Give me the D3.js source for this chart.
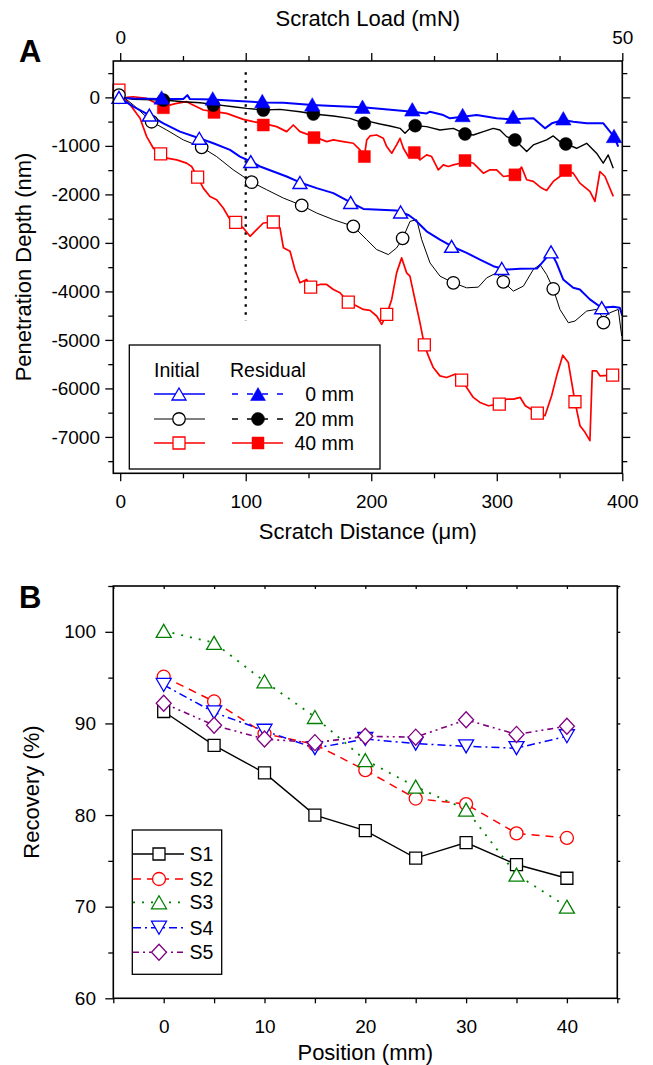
<!DOCTYPE html>
<html><head><meta charset="utf-8">
<script src="https://cdn.jsdelivr.net/npm/d3@7"></script>
<style>
body{margin:0;background:#fff}
svg{display:block}
text{font-family:"Liberation Sans",Arial,Helvetica,sans-serif;fill:#000}
</style>
</head><body>
<svg id="c" width="653" height="1065"></svg>
<script>
// ---------------- Panel A data (scratch distance µm, depth nm) ----------------
const aXTicks = [0,100,200,300,400];
const aXMinor = [50,150,250,350];
const aYTicks = [0,-1000,-2000,-3000,-4000,-5000,-6000,-7000];
const aYMinor = [500,-500,-1500,-2500,-3500,-4500,-5500,-6500,-7500];
const loadTicks = [0,50];

const initial0 = [[-5.5,100],[-1,0],[10.5,-192],[23.2,-364],[34.4,-535],[47.6,-706],[63,-843],[74.2,-946],[87.5,-1083],[95.4,-1220],[104,-1322],[111.4,-1425],[122,-1528],[132.6,-1631],[143.2,-1754],[156.5,-1871],[169.8,-1974],[183.6,-2165],[193.7,-2300],[207,-2316],[220,-2330],[223.4,-2364],[230,-2430],[234.8,-2522],[244.1,-2761],[254.7,-2933],[264,-3069],[276,-3206],[286.6,-3343],[297.3,-3480],[304,-3528],[308,-3549],[318.7,-3535],[332,-3528],[336,-3412],[343.2,-3193],[347.6,-3412],[352.9,-3754],[360.9,-3926],[366.2,-3960],[374.2,-4165],[383.5,-4336],[392.8,-4315],[398,-4336],[400,-4500]];
const initial20 = [[-5.5,116],[-1,82],[10.5,-158],[25,-501],[37,-672],[50.3,-877],[64.9,-1028],[76.8,-1220],[90.1,-1494],[104.7,-1747],[116.7,-1904],[130,-2076],[144.6,-2227],[156.5,-2384],[169.8,-2521],[185.7,-2658],[196.3,-2932],[204.3,-3137],[213.6,-3241],[220.2,-3104],[225,-2912],[230.9,-2556],[236.2,-2522],[240.2,-2933],[246.8,-3412],[254.8,-3686],[265.4,-3823],[276,-3926],[285.3,-3912],[292,-3720],[299.9,-3617],[305.2,-3802],[313.2,-3994],[321.2,-3891],[329.1,-3549],[334.4,-3446],[339.7,-3652],[345,-3946],[350.3,-4371],[357,-4645],[362.3,-4611],[371.6,-4405],[379.5,-4371],[384.8,-4550],[390.2,-4439],[396.8,-4371],[399.5,-4919]];
const initial40 = [[-5.5,163],[-1,116],[2.5,13],[9.1,-192],[15.8,-432],[21.1,-809],[26.4,-1048],[32.2,-1165],[37,-1254],[45,-1288],[52.9,-1356],[56.9,-1425],[61.7,-1645],[66.2,-1871],[71.5,-2042],[76.8,-2110],[82.1,-2281],[87.5,-2521],[92,-2576],[98.1,-2693],[103.4,-2864],[108.7,-2727],[114,-2590],[122,-2569],[127.3,-2690],[130,-3100],[135.3,-3172],[139.2,-3549],[143.2,-3823],[148.5,-3754],[151.7,-3912],[159.2,-3857],[164.5,-3857],[169.8,-3960],[175.1,-4028],[181.7,-4220],[188.4,-4302],[193.7,-4371],[199,-4390],[204.3,-4507],[208.3,-4679],[212.3,-4474],[216.3,-4166],[220.2,-3618],[224.2,-3309],[228.2,-3618],[230.8,-3686],[234.8,-4166],[238.8,-4645],[242.3,-5104],[245.5,-5330],[249.4,-5570],[254.7,-5741],[260,-5776],[266.7,-5707],[272,-5830],[276,-5981],[281.3,-6186],[286.6,-6289],[293.3,-6358],[302.3,-6323],[308,-6220],[313.4,-6220],[318.7,-6186],[322.7,-6358],[332.3,-6508],[338.4,-6563],[343.7,-6152],[347.7,-5741],[352.6,-5316],[357,-5467],[362.3,-6275],[366.3,-6769],[370.3,-6906],[374.2,-7077],[376.1,-5638],[379.5,-5638],[382.2,-5741],[392.1,-5727],[395.6,-5707]];
const residual0 = [[-5.5,0],[10.5,-21],[33,-35],[50.3,-35],[53.5,47],[55.6,-35],[73.7,-42],[90.1,-69],[113.2,-103],[130,-110],[153,-158],[169.8,-179],[193,-206],[204.3,-227],[217.6,-261],[232.7,-295],[244.1,-330],[246.8,-295],[257.4,-364],[262.7,-432],[272.8,-398],[284,-364],[299.9,-432],[313.2,-453],[329.2,-432],[338.4,-638],[343.8,-535],[353,-466],[361,-501],[371.6,-535],[384.9,-535],[390.2,-706],[393.4,-809],[396.8,-1014]];
const residual20 = [[-5.5,82],[-1,13],[10.5,-42],[34.4,-55],[50.3,-90],[63.6,-110],[74.2,-145],[90.1,-192],[100.7,-227],[114,-261],[127.3,-247],[143.2,-295],[153.9,-343],[169.8,-384],[183.1,-432],[194.5,-535],[199,-501],[207,-549],[214.9,-590],[222.9,-638],[226.9,-741],[230.9,-638],[234.9,-583],[244.1,-604],[254.7,-672],[265.4,-638],[274.7,-754],[281.3,-775],[289.3,-706],[297.2,-638],[302.5,-672],[307.8,-809],[314.5,-877],[323.8,-1117],[329.1,-980],[339.7,-877],[345,-795],[350.3,-912],[355.1,-960],[363.6,-1049],[371.6,-946],[379.5,-1151],[384.8,-1357],[388.8,-1186],[392.8,-1460]];
const residual40 = [[-5.5,-89],[-1,-124],[5.2,0],[10.5,13],[21.1,-21],[34.4,-192],[45,-124],[52.9,-89],[60.9,-192],[66.2,-260],[74.7,-295],[84.8,-329],[98.1,-453],[106,-501],[114,-535],[124.6,-603],[132.6,-706],[137.9,-569],[143.2,-706],[154.4,-809],[164.5,-912],[169.8,-877],[177.7,-912],[185.7,-946],[191,-1083],[194.5,-1220],[196.4,-877],[199,-795],[204.3,-775],[209.6,-843],[212.3,-1014],[216.3,-1151],[220.2,-980],[222.9,-843],[225.6,-1049],[229.5,-1220],[234.3,-1138],[238.8,-1288],[244.1,-1186],[248.1,-1220],[253.4,-1494],[257.4,-1391],[261.4,-1425],[265.4,-1391],[270.7,-1357],[274.7,-1302],[281.3,-1357],[289.3,-1562],[294.6,-1494],[299.9,-1494],[305.3,-1631],[314.5,-1597],[319.8,-1439],[323.8,-1699],[329.1,-1733],[335.7,-1870],[339.7,-1918],[345,-1733],[350.3,-1631],[354.8,-1508],[360.9,-1562],[366.2,-1768],[374.2,-1939],[378.2,-2144],[382.2,-1528],[386.2,-1631],[392.8,-2042]];

const initial0Marks = [[-1,0],[23.2,-364],[63,-843],[104,-1323],[143.2,-1755],[183.6,-2166],[223.4,-2363],[264,-3070],[304,-3528],[343.2,-3185],[383.6,-4336]];
const initial20Marks = [[-1,47],[25,-502],[64.9,-1029],[104.7,-1748],[144.6,-2227],[185.7,-2659],[225,-2905],[265.4,-3823],[305.2,-3802],[345,-3946],[385,-4644]];
const initial40Marks = [[-1,150],[32.2,-1165],[61.7,-1644],[92,-2576],[122,-2569],[151.7,-3912],[181.7,-4220],[212.3,-4474],[242.3,-5104],[272,-5830],[302,-6323],[332.3,-6508],[362.3,-6275],[392.3,-5727]];
const residual0Marks = [[33,0],[73.7,-21],[113.2,-76],[153,-145],[193,-193],[232.7,-247],[272.8,-364],[313,-398],[353,-432],[393.4,-795]];
const residual20Marks = [[34.4,-56],[74.2,-158],[114,-261],[153.9,-343],[194.5,-535],[235,-583],[274.7,-754],[314.5,-877],[355,-960]];
const residual40Marks = [[34.4,-213],[74.7,-309],[114,-570],[154.4,-830],[194.5,-1220],[234.3,-1138],[274.7,-1302],[314.5,-1597],[354.8,-1508]];

const legendRowsA = ["0 mm","20 mm","40 mm"];

// ---------------- Panel B data (position mm, recovery %) ----------------
const positions = [0,5,10,15,20,25,30,35,40];
const seriesNames = ["S1","S2","S3","S4","S5"];
const S1 = [91.3,87.6,84.6,80.0,78.3,75.3,77.0,74.6,73.1];
const S2 = [95.1,92.4,88.9,87.7,84.9,81.8,81.2,78.0,77.5];
const S3 = [100.1,98.8,94.6,90.7,86.0,83.1,80.6,73.5,70.0];
const S4 = [94.2,91.2,89.2,87.3,88.3,87.8,87.5,87.3,88.6];
const S5 = [92.2,89.8,88.3,87.9,88.6,88.5,90.4,88.8,89.7];
const bXTicks = [0,10,20,30,40];
const bXMinor = [-5,5,15,25,35,45];
const bYTicks = [60,70,80,90,100];
const bYMinor = [65,75,85,95,105];

// ---------------- drawing ----------------
const svg = d3.select("#c");
const BLUE="#0000ff", RED="#ff0000", BLACK="#000000", GREEN="#008000", PURPLE="#800080";

function markerPath(type, w, h){
  const p = d3.path();
  if(type==="tri"){ p.moveTo(0,-h/2); p.lineTo(w/2,h/2); p.lineTo(-w/2,h/2); p.closePath(); }
  else if(type==="itri"){ p.moveTo(0,h/2); p.lineTo(w/2,-h/2); p.lineTo(-w/2,-h/2); p.closePath(); }
  else if(type==="square"){ p.rect(-w/2,-h/2,w,h); }
  else if(type==="diamond"){ p.moveTo(0,-h/2); p.lineTo(w/2,0); p.lineTo(0,h/2); p.lineTo(-w/2,0); p.closePath(); }
  else if(type==="circle"){ p.arc(0,0,w/2,0,2*Math.PI); p.closePath(); }
  return p.toString();
}
function drawMarks(g, pts, sx, sy, type, w, h, stroke, fill, sw){
  g.selectAll(null).data(pts).enter().append("path")
    .attr("d", markerPath(type,w,h))
    .attr("transform", d=>`translate(${sx(d[0])},${sy(d[1])})`)
    .attr("fill", fill).attr("stroke", stroke).attr("stroke-width", sw);
}
function styleAxis(g, fs){
  g.select(".domain").remove();
  g.selectAll(".tick line").attr("stroke","#000").attr("stroke-width",1.3);
  g.selectAll(".tick text").attr("font-size",fs).attr("fill","#000")
    .style("font-family",'"Liberation Sans",Arial,Helvetica,sans-serif');
}

// ===== Panel A =====
const xA = d3.scaleLinear().domain([-5.5,400]).range([113.3,622.3]);
const yA = d3.scaleLinear().domain([-7750,750]).range([473.3,61]);
const loadA = d3.scaleLinear().domain([0,50]).range([xA(0),xA(400)]);
const gA = svg.append("g");

const fmt = d=>String(d);
styleAxis(gA.append("g").attr("transform",`translate(0,${yA.range()[0]})`).call(d3.axisBottom(xA).tickValues(aXMinor).tickSize(5).tickFormat("")),19);
styleAxis(gA.append("g").attr("transform",`translate(0,${yA.range()[0]})`).call(d3.axisBottom(xA).tickValues(aXTicks).tickSize(8).tickPadding(13.5).tickFormat(fmt)),19);
styleAxis(gA.append("g").attr("transform",`translate(0,${yA.range()[1]})`).call(d3.axisTop(xA).tickValues(aXMinor).tickSize(5).tickFormat("")),19);
styleAxis(gA.append("g").attr("transform",`translate(0,${yA.range()[1]})`).call(d3.axisTop(xA).tickValues(aXTicks).tickSize(8).tickFormat("")),19);
styleAxis(gA.append("g").attr("transform",`translate(0,${yA.range()[1]})`).call(d3.axisTop(loadA).tickValues(loadTicks).tickSize(0).tickPadding(17).tickFormat(fmt)),19);
styleAxis(gA.append("g").attr("transform",`translate(${xA.range()[0]},0)`).call(d3.axisLeft(yA).tickValues(aYMinor).tickSize(5).tickFormat("")),19);
styleAxis(gA.append("g").attr("transform",`translate(${xA.range()[0]},0)`).call(d3.axisLeft(yA).tickValues(aYTicks).tickSize(8).tickPadding(5.3).tickFormat(fmt)),19);
styleAxis(gA.append("g").attr("transform",`translate(${xA.range()[1]},0)`).call(d3.axisRight(yA).tickValues(aYMinor).tickSize(5).tickFormat("")),19);
styleAxis(gA.append("g").attr("transform",`translate(${xA.range()[1]},0)`).call(d3.axisRight(yA).tickValues(aYTicks).tickSize(8).tickFormat("")),19);

gA.append("line").attr("x1",xA(100)).attr("x2",xA(100)).attr("y1",yA(520)).attr("y2",yA(-4600))
  .attr("stroke","#000").attr("stroke-width",2.3).attr("stroke-dasharray","2.6,5.4");

const lineA = d3.line().x(d=>xA(d[0])).y(d=>yA(d[1]));
const curves = [
  [initial40, RED, 1.7],[initial20, BLACK, 1.0],[initial0, BLUE, 2.0],
  [residual40, RED, 1.7],[residual20, BLACK, 1.4],[residual0, BLUE, 2.0]
];
curves.forEach(c=>gA.append("path").attr("d",lineA(c[0])).attr("fill","none")
  .attr("stroke",c[1]).attr("stroke-width",c[2]).attr("stroke-linejoin","round"));

drawMarks(gA, initial40Marks, xA, yA, "square", 12, 12, RED, "#fff", 1.3);
drawMarks(gA, initial20Marks, xA, yA, "circle", 12.5, 12.5, BLACK, "#fff", 1.3);
drawMarks(gA, initial0Marks, xA, yA, "tri", 14, 12, BLUE, "#fff", 1.4);
drawMarks(gA, residual40Marks, xA, yA, "square", 12, 12, RED, RED, 0.5);
drawMarks(gA, residual20Marks, xA, yA, "circle", 13, 13, BLACK, BLACK, 0.5);
drawMarks(gA, residual0Marks, xA, yA, "tri", 15.5, 13.5, BLUE, BLUE, 0.5);

gA.append("rect").attr("x",xA.range()[0]).attr("y",yA.range()[1])
  .attr("width",xA.range()[1]-xA.range()[0]).attr("height",yA.range()[0]-yA.range()[1])
  .attr("fill","none").attr("stroke","#000").attr("stroke-width",1.6);

const lgA = gA.append("g");
lgA.append("rect").attr("x",129.3).attr("y",345).attr("width",250.7).attr("height",124)
  .attr("fill","#fff").attr("stroke","#000").attr("stroke-width",1.3);
lgA.append("text").attr("x",154).attr("y",377).attr("font-size",19.5).text("Initial");
lgA.append("text").attr("x",230).attr("y",377).attr("font-size",19.5).text("Residual");
const legIni = [[BLUE,"tri",14,12,1.3],[BLACK,"circle",12.5,12.5,1.0],[RED,"square",12,12,1.7]];
const legRes = [[BLUE,"tri",15,13,"6,9",1.6],[BLACK,"circle",13,13,"6,9",1.6],[RED,"square",12,12,null,1.7]];
const rowY = [394,419,443];
legendRowsA.forEach((lab,i)=>{
  const y=rowY[i];
  const a=legIni[i], b=legRes[i];
  lgA.append("line").attr("x1",154).attr("x2",205).attr("y1",y).attr("y2",y).attr("stroke",a[0]).attr("stroke-width",a[4]);
  lgA.append("path").attr("d",markerPath(a[1],a[2],a[3])).attr("transform",`translate(179,${y})`).attr("fill","#fff").attr("stroke",a[0]).attr("stroke-width",1.3);
  const l = lgA.append("line").attr("x1",232).attr("x2",283).attr("y1",y).attr("y2",y).attr("stroke",b[0]).attr("stroke-width",b[5]);
  if(b[4]) l.attr("stroke-dasharray",b[4]);
  lgA.append("path").attr("d",markerPath(b[1],b[2],b[3])).attr("transform",`translate(258,${y})`).attr("fill",b[0]).attr("stroke",b[0]).attr("stroke-width",0.5);
  lgA.append("text").attr("x",354).attr("y",y+7).attr("font-size",19.5).attr("text-anchor","end").text(lab);
});

gA.append("text").attr("x",367.8).attr("y",26).attr("font-size",22).attr("text-anchor","middle").text("Scratch Load (mN)");
gA.append("text").attr("x",367.8).attr("y",539).attr("font-size",22).attr("text-anchor","middle").text("Scratch Distance (\u03bcm)");
gA.append("text").attr("transform",`translate(31,267) rotate(-90)`).attr("font-size",22).attr("text-anchor","middle").text("Penetration Depth (nm)");
gA.append("text").attr("x",19).attr("y",62).attr("font-size",31).attr("font-weight","bold").text("A");

// ===== Panel B =====
const xB = d3.scaleLinear().domain([-5,45]).range([113.3,617.3]);
const yB = d3.scaleLinear().domain([60,105]).range([998.3,586]);
const gB = svg.append("g");
styleAxis(gB.append("g").attr("transform",`translate(0,${yB.range()[0]})`).call(d3.axisBottom(xB).tickValues(bXMinor).tickSize(5).tickFormat("")),19);
styleAxis(gB.append("g").attr("transform",`translate(0,${yB.range()[0]})`).call(d3.axisBottom(xB).tickValues(bXTicks).tickSize(5).tickPadding(16.5).tickFormat(fmt)),19);
styleAxis(gB.append("g").attr("transform",`translate(0,${yB.range()[1]})`).call(d3.axisTop(xB).tickValues(bXTicks.concat(bXMinor)).tickSize(-3).tickFormat("")),19);
styleAxis(gB.append("g").attr("transform",`translate(${xB.range()[0]},0)`).call(d3.axisLeft(yB).tickValues(bYMinor).tickSize(5).tickFormat("")),19);
styleAxis(gB.append("g").attr("transform",`translate(${xB.range()[0]},0)`).call(d3.axisLeft(yB).tickValues(bYTicks).tickSize(8).tickPadding(9.3).tickFormat(fmt)),19);
styleAxis(gB.append("g").attr("transform",`translate(${xB.range()[1]},0)`).call(d3.axisRight(yB).tickValues(bYTicks.concat(bYMinor)).tickSize(3).tickFormat("")),19);

const seriesB = [
  {v:S1, c:BLACK, dash:null, sw:1.4, m:"square", w:12, h:12},
  {v:S2, c:RED, dash:"8,6", sw:1.5, m:"circle", w:13, h:13},
  {v:S3, c:GREEN, dash:"2,7", sw:1.8, m:"tri", w:15, h:13},
  {v:S4, c:BLUE, dash:"8,4,2,4", sw:1.5, m:"itri", w:15, h:13},
  {v:S5, c:PURPLE, dash:"6,4,2,4,2,4", sw:1.6, m:"diamond", w:15, h:16}
];
const lineB = d3.line().x((d,i)=>xB(positions[i])).y(d=>yB(d));
seriesB.forEach(s=>{
  const p = gB.append("path").attr("d",lineB(s.v)).attr("fill","none").attr("stroke",s.c).attr("stroke-width",s.sw);
  if(s.dash) p.attr("stroke-dasharray",s.dash);
});
seriesB.forEach(s=>{
  drawMarks(gB, s.v.map((d,i)=>[positions[i],d]), xB, yB, s.m, s.w, s.h, s.c, "#fff", 1.3);
});
gB.append("rect").attr("x",xB.range()[0]).attr("y",yB.range()[1])
  .attr("width",xB.range()[1]-xB.range()[0]).attr("height",yB.range()[0]-yB.range()[1])
  .attr("fill","none").attr("stroke","#000").attr("stroke-width",1.6);

const lgB = gB.append("g");
lgB.append("rect").attr("x",132.3).attr("y",830).attr("width",89.4).attr("height",144.3)
  .attr("fill","#fff").attr("stroke","#000").attr("stroke-width",1.3);
const rowB = [854,879,902.3,927.7,952.3];
seriesB.forEach((s,i)=>{
  const y=rowB[i];
  const l = lgB.append("line").attr("x1",133).attr("x2",184).attr("y1",y).attr("y2",y).attr("stroke",s.c).attr("stroke-width",s.sw);
  if(s.dash) l.attr("stroke-dasharray",s.dash);
  lgB.append("path").attr("d",markerPath(s.m,s.w,s.h)).attr("transform",`translate(159,${y})`).attr("fill","#fff").attr("stroke",s.c).attr("stroke-width",1.3);
  lgB.append("text").attr("x",189.5).attr("y",y+7).attr("font-size",19.5).text(seriesNames[i]);
});

gB.append("text").attr("x",365.3).attr("y",1060).attr("font-size",22).attr("text-anchor","middle").text("Position (mm)");
gB.append("text").attr("transform",`translate(39,792) rotate(-90)`).attr("font-size",22).attr("text-anchor","middle").text("Recovery (%)");
gB.append("text").attr("x",19).attr("y",608).attr("font-size",31).attr("font-weight","bold").text("B");
</script>
</body></html>
